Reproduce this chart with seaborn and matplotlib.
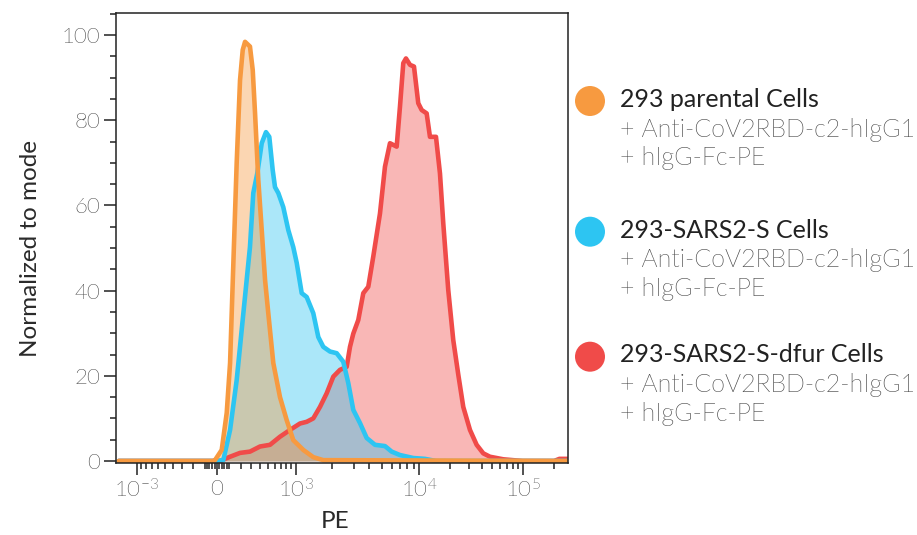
import numpy as np
import matplotlib
matplotlib.use('Agg')
import matplotlib.pyplot as plt
import matplotlib.patches as mpatches
from matplotlib import font_manager as fm
from matplotlib.ticker import FixedLocator, FixedFormatter, MultipleLocator
import seaborn as sns

# Traces (PE value, % of mode)
parental_pe = [-1500, -32, -16, 38, 79, 107, 135, 164, 194, 219, 241, 290, 319, 344, 381,
               422, 464, 507, 579, 686, 808, 945, 1159, 1403, 1695, 270000]
parental_pct = [0, 0, 0.2, 2.6, 11.3, 23.0, 46.5, 70.0, 89.4, 96.5, 98.4, 97.3, 91.8, 81.7, 66.0,
                54.2, 42.5, 34.7, 23.0, 15.0, 9.6, 4.9, 2.6, 0.9, 0.2, 0]

sars2_pe = [-1500, -16, 51, 107, 164, 225, 290, 325, 370, 422, 476, 521, 570, 605, 658, 744,
            840, 945, 1020, 1124, 1237, 1403, 1543, 1695, 1922, 2178, 2463, 2702, 2965, 3356,
            3798, 4426, 5321, 6020, 7013, 8956, 11355, 14510, 270000]
sars2_pct = [0, 0, 0.2, 7.3, 19.0, 34.7, 50.2, 62.9, 67.6, 74.6, 77.2, 76.1, 68.3, 64.3, 62.9, 59.6,
             54.2, 50.2, 46.5, 39.4, 38.5, 34.7, 29.1, 26.8, 25.7, 25.3, 23.3, 18.3, 12.0, 8.9,
             5.4, 3.8, 3.5, 2.2, 1.4, 0.7, 0.5, 0, 0]

dfur_pe = [-1500, 24, 107, 194, 290, 401, 531, 686, 875, 1087, 1237, 1403, 1593, 1807, 2045,
           2316, 2623, 2789, 2965, 3252, 3567, 3911, 4289, 4853, 5321, 5834, 6600, 7013, 7452,
           7831, 8430, 9074, 9816, 10550, 11790, 12690, 14510, 15860, 17070, 19080, 21320,
           23840, 26650, 30930, 35900, 41590, 48280, 64930, 100000, 200000, 225000, 270000]
dfur_pct = [0, 0, 1.0, 1.9, 2.2, 3.4, 3.8, 5.7, 7.3, 8.8, 9.2, 10.0, 12.7, 15.9, 19.8,
            21.4, 22.1, 26.8, 29.9, 33.1, 39.4, 40.9, 48.0, 58.1, 69.1, 74.6, 73.8, 83.2, 93.4,
            94.5, 93.0, 92.6, 84.0, 82.4, 81.6, 76.1, 76.1, 67.5, 55.8, 40.1, 28.4,
            20.3, 12.7, 7.3, 3.8, 1.8, 1.0, 0.4, 0, 0, 0.5, 0.5]

series_names = ['293 parental Cells', '293-SARS2-S Cells', '293-SARS2-S-dfur Cells']
series_sub = ['+ Anti-CoV2RBD-c2-hIgG1', '+ hIgG-Fc-PE']
colors = ['#F79A40', '#2DC5F2', '#F04B49']

major_pe = [-1000, 0, 1000, 10000, 100000]
major_labels = [r'$\mathregular{10^{-3}}$', '0', r'$\mathregular{10^{3}}$',
                r'$\mathregular{10^{4}}$', r'$\mathregular{10^{5}}$']

sns.set_theme(style='ticks')
plt.rcParams['font.family'] = ['Lato', 'DejaVu Sans']

# pick the Lato Light file directly (weight matching can land on Hairline/Thin)
light_files = [f.fname for f in fm.fontManager.ttflist
               if f.name.startswith('Lato') and 'light' in f.fname.lower()
               and 'italic' not in f.fname.lower()]


def light_font(size):
    if light_files:
        return fm.FontProperties(fname=light_files[0], size=size)
    return fm.FontProperties(family='Lato', weight='light', size=size)


# biexponential-like display scale (asinh, stretched per decade to match the cytometer axis)
lin_w = 370.0
g_knots = np.arcsinh(np.array([-1e4, -1e3, 0, 1e3, 1e4, 1e5, 1e6]) / lin_w)
d_knots = np.array([30.7, 136.7, 217.0, 295.7, 419.3, 522.7, 627.1])


def fwd(x):
    return np.interp(np.arcsinh(np.asarray(x, dtype=float) / lin_w), g_knots, d_knots)


def inv(d):
    return lin_w * np.sinh(np.interp(np.asarray(d, dtype=float), d_knots, g_knots))


fig = plt.figure(figsize=(9.17, 5.35), dpi=100)
ax = fig.add_axes([116 / 917, (535 - 462.7) / 535, (568 - 116) / 917, (462.7 - 13.3) / 535])
ax.set_xscale('function', functions=(fwd, inv))

traces = [(dfur_pe, dfur_pct, colors[2]),
          (sars2_pe, sars2_pct, colors[1]),
          (parental_pe, parental_pct, colors[0])]
for xs, ys, c in traces:
    ax.fill_between(xs, 0, ys, color=c, alpha=0.4, lw=0)
    sns.lineplot(x=xs, y=ys, color=c, lw=3.3, ax=ax, sort=False,
                 solid_joinstyle='round', solid_capstyle='round')

ax.set_xlim(-1590, 272000)
ax.set_ylim(-0.4, 105.1)

minor_pe = ([-v for v in range(100, 1000, 100)] + [-80, -60, -40, -20, 20, 40, 60, 80]
            + list(range(100, 1000, 100))
            + [k * 1000 for k in range(2, 10)] + [k * 10000 for k in range(2, 10)] + [200000])
ax.xaxis.set_major_locator(FixedLocator(major_pe))
ax.xaxis.set_major_formatter(FixedFormatter(major_labels))
ax.xaxis.set_minor_locator(FixedLocator(minor_pe))
ax.yaxis.set_major_locator(MultipleLocator(20))
ax.yaxis.set_minor_locator(MultipleLocator(5))

ax.tick_params(which='major', length=8.5, width=1.1, color='#222222', labelsize=16,
               labelcolor='#444444', direction='out', pad=3)
ax.tick_params(which='minor', length=4, width=1.1, color='#222222', direction='out')
for lab in ax.get_xticklabels() + ax.get_yticklabels():
    lab.set_fontproperties(light_font(16))
for sp in ax.spines.values():
    sp.set_visible(True)
    sp.set_linewidth(1.1)
    sp.set_color('#222222')

ax.set_xlabel('PE', fontsize=17.5, color='#2a2a2a')
ax.set_ylabel('Normalized to mode', fontsize=17.5, color='#2a2a2a')
ax.xaxis.set_label_coords(0.4845, -0.108)
ax.yaxis.set_label_coords(-0.167, 0.476)

# legend on the right
legend_y = [101, 231.7, 356.7]
for name, c, cy in zip(series_names, colors, legend_y):
    fig.add_artist(mpatches.Ellipse((590 / 917, 1 - cy / 535), 30 / 917, 30 / 535,
                                    transform=fig.transFigure, color=c, lw=0))
    fig.text(620 / 917, 1 - (cy + 5.8) / 535, name, fontsize=18, color='#222222',
             va='baseline', ha='left')
    for i, s in enumerate(series_sub):
        fig.text(620 / 917, 1 - (cy + 35.5 + 28.5 * i) / 535, s, fontproperties=light_font(18),
                 color='#444444', va='baseline', ha='left')

fig.savefig('out.png', dpi=100)
